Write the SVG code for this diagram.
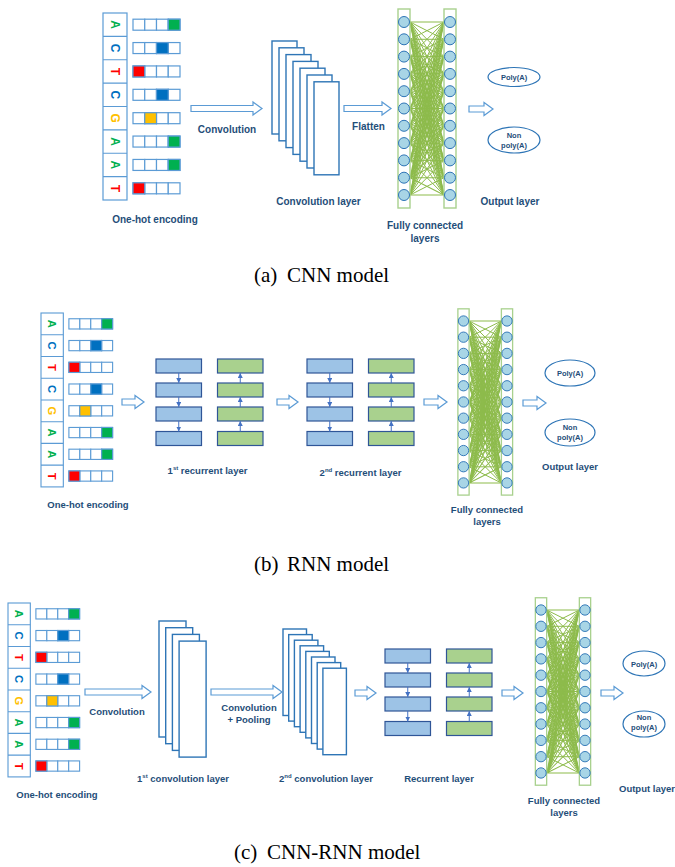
<svg xmlns="http://www.w3.org/2000/svg" width="675" height="867" viewBox="0 0 675 867">
<style>
.lbl{font-family:"Liberation Sans",Arial,sans-serif;font-weight:bold;fill:#1f4e79;text-anchor:middle}
.s10{font-size:10px}
.s95{font-size:9.5px}
.sm{font-family:"Liberation Sans",Arial,sans-serif;font-weight:bold;fill:#1f4e79;text-anchor:middle;font-size:7.5px}
.cap{font-family:"Liberation Serif","Times New Roman",serif;font-size:21px;fill:#000}
.nuc{font-family:"Liberation Sans",Arial,sans-serif;font-weight:bold;font-size:12px;text-anchor:middle}
.cell{fill:#fff;stroke:#5b9bd5;stroke-width:1.2}
.col{fill:#fff;stroke:#5b9bd5;stroke-width:1.2}
.blk{fill:#fff;stroke:#5b9bd5;stroke-width:1.2}
.fmap{fill:#fff;stroke:#2e75b6;stroke-width:1.4}
.bar{fill:#fff;stroke:#a9d18e;stroke-width:1.4}
.neu{fill:#a8d5e6;stroke:#2e75b6;stroke-width:1}
.mesh{fill:none;stroke:#8dbb4b;stroke-width:1}
.out{fill:#fff;stroke:#2e75b6;stroke-width:1.2}
.rb{fill:#9dc3e6;stroke:#2f5597;stroke-width:1.2}
.rg{fill:#a9d18e;stroke:#2f5597;stroke-width:1.2}
.sa{stroke:#4472c4;stroke-width:1;fill:none;marker-end:url(#ah)}
</style>
<defs>
<marker id="ah" viewBox="0 0 6 6" refX="6" refY="3" markerWidth="5" markerHeight="5" orient="auto" markerUnits="userSpaceOnUse"><path d="M0 0L6 3L0 6z" fill="#4472c4"/></marker>
<g id="cells4"><rect class="cell" x="0" y="0" width="11.75" height="11"/><rect class="cell" x="11.75" y="0" width="11.75" height="11"/><rect class="cell" x="23.5" y="0" width="11.75" height="11"/><rect class="cell" x="35.25" y="0" width="11.75" height="11"/></g>
<g id="onehot">
<rect class="col" x="0" y="0" width="24" height="187"/>
<path d="M0 23.375H24M0 46.75H24M0 70.125H24M0 93.5H24M0 116.875H24M0 140.25H24M0 163.625H24" stroke="#5b9bd5" stroke-width="1.2"/>
<text class="nuc" fill="#00b050" transform="translate(12 11.69) rotate(90)" dy="0.36em">A</text>
<text class="nuc" fill="#0070c0" transform="translate(12 35.06) rotate(90)" dy="0.36em">C</text>
<text class="nuc" fill="#ff0000" transform="translate(12 58.44) rotate(90)" dy="0.36em">T</text>
<text class="nuc" fill="#0070c0" transform="translate(12 81.81) rotate(90)" dy="0.36em">C</text>
<text class="nuc" fill="#ffc000" transform="translate(12 105.19) rotate(90)" dy="0.36em">G</text>
<text class="nuc" fill="#00b050" transform="translate(12 128.56) rotate(90)" dy="0.36em">A</text>
<text class="nuc" fill="#00b050" transform="translate(12 151.94) rotate(90)" dy="0.36em">A</text>
<text class="nuc" fill="#ff0000" transform="translate(12 175.31) rotate(90)" dy="0.36em">T</text>
<use href="#cells4" x="30" y="6.19"/>
<use href="#cells4" x="30" y="29.56"/>
<use href="#cells4" x="30" y="52.94"/>
<use href="#cells4" x="30" y="76.31"/>
<use href="#cells4" x="30" y="99.69"/>
<use href="#cells4" x="30" y="123.06"/>
<use href="#cells4" x="30" y="146.44"/>
<use href="#cells4" x="30" y="169.81"/>
<rect x="65.25" y="6.19" width="11.75" height="11" fill="#00b050" stroke="#5b9bd5" stroke-width="1.2"/>
<rect x="53.5" y="29.56" width="11.75" height="11" fill="#0070c0" stroke="#5b9bd5" stroke-width="1.2"/>
<rect x="30" y="52.94" width="11.75" height="11" fill="#ff0000" stroke="#5b9bd5" stroke-width="1.2"/>
<rect x="53.5" y="76.31" width="11.75" height="11" fill="#0070c0" stroke="#5b9bd5" stroke-width="1.2"/>
<rect x="41.75" y="99.69" width="11.75" height="11" fill="#ffc000" stroke="#5b9bd5" stroke-width="1.2"/>
<rect x="65.25" y="123.06" width="11.75" height="11" fill="#00b050" stroke="#5b9bd5" stroke-width="1.2"/>
<rect x="65.25" y="146.44" width="11.75" height="11" fill="#00b050" stroke="#5b9bd5" stroke-width="1.2"/>
<rect x="30" y="169.81" width="11.75" height="11" fill="#ff0000" stroke="#5b9bd5" stroke-width="1.2"/>
</g>
<path id="fan" class="mesh" vector-effect="non-scaling-stroke" d="M0 0L1 0M0 0L1 1M0 0L1 2M0 0L1 3M0 0L1 4M0 0L1 5M0 0L1 6M0 0L1 7M0 0L1 8M0 0L1 9M0 0L1 10"/>
<g id="mesh">
<use href="#fan"/>
<use href="#fan" transform="matrix(1 -1 0 1 0 1)"/>
<use href="#fan" transform="matrix(1 -2 0 1 0 2)"/>
<use href="#fan" transform="matrix(1 -3 0 1 0 3)"/>
<use href="#fan" transform="matrix(1 -4 0 1 0 4)"/>
<use href="#fan" transform="matrix(1 -5 0 1 0 5)"/>
<use href="#fan" transform="matrix(1 -6 0 1 0 6)"/>
<use href="#fan" transform="matrix(1 -7 0 1 0 7)"/>
<use href="#fan" transform="matrix(1 -8 0 1 0 8)"/>
<use href="#fan" transform="matrix(1 -9 0 1 0 9)"/>
<use href="#fan" transform="matrix(1 -10 0 1 0 10)"/>
</g>
<g id="fccol">
<rect class="bar" x="-6" y="-13" width="12" height="199"/>
<circle class="neu" cx="0" cy="0" r="5.5"/>
<circle class="neu" cx="0" cy="17.3" r="5.5"/>
<circle class="neu" cx="0" cy="34.6" r="5.5"/>
<circle class="neu" cx="0" cy="51.9" r="5.5"/>
<circle class="neu" cx="0" cy="69.2" r="5.5"/>
<circle class="neu" cx="0" cy="86.5" r="5.5"/>
<circle class="neu" cx="0" cy="103.8" r="5.5"/>
<circle class="neu" cx="0" cy="121.1" r="5.5"/>
<circle class="neu" cx="0" cy="138.4" r="5.5"/>
<circle class="neu" cx="0" cy="155.7" r="5.5"/>
<circle class="neu" cx="0" cy="173" r="5.5"/>
</g>
<g id="rnnpair">
<rect class="rb" x="0" y="0" width="45.5" height="14"/>
<rect class="rb" x="0" y="24" width="45.5" height="14"/>
<rect class="rb" x="0" y="48" width="45.5" height="14"/>
<rect class="rb" x="0" y="72.5" width="45.5" height="14"/>
<rect class="rg" x="61.5" y="0" width="45.5" height="14"/>
<rect class="rg" x="61.5" y="24" width="45.5" height="14"/>
<rect class="rg" x="61.5" y="48" width="45.5" height="14"/>
<rect class="rg" x="61.5" y="72.5" width="45.5" height="14"/>
</g>
<g id="rnnarrows">
<line class="sa" x1="22.75" y1="14" x2="22.75" y2="24"/>
<line class="sa" x1="22.75" y1="38" x2="22.75" y2="48"/>
<line class="sa" x1="22.75" y1="62" x2="22.75" y2="72.5"/>
<line class="sa" x1="84.25" y1="24" x2="84.25" y2="14"/>
<line class="sa" x1="84.25" y1="48" x2="84.25" y2="38"/>
<line class="sa" x1="84.25" y1="72.5" x2="84.25" y2="62"/>
</g>
</defs>
<rect width="675" height="867" fill="#fff"/>

<!-- ===== (a) CNN model ===== -->
<g id="a-onehot"><use href="#onehot" transform="translate(103 13)"/><text class="lbl s10" x="155" y="223">One-hot encoding</text></g>
<g id="a-conv">
<rect class="fmap" x="272" y="41" width="25" height="93"/>
<rect class="fmap" x="279" y="47.8" width="25" height="93"/>
<rect class="fmap" x="286" y="54.6" width="25" height="93"/>
<rect class="fmap" x="293" y="61.4" width="25" height="93"/>
<rect class="fmap" x="300" y="68.2" width="25" height="93"/>
<rect class="fmap" x="307" y="75" width="25" height="93"/>
<rect class="fmap" x="314" y="81.8" width="25" height="93"/>
<text class="lbl s10" x="318.5" y="205">Convolution layer</text>
</g>
<g id="a-fc">
<use href="#mesh" transform="translate(410 22) scale(34 17.3)"/>
<use href="#fccol" transform="translate(404 22)"/>
<use href="#fccol" transform="translate(450 22)"/>
<text class="lbl s10" x="425" y="229">Fully connected</text>
<text class="lbl s10" x="425" y="242">layers</text>
</g>
<g id="a-out">
<ellipse class="out" cx="514" cy="77" rx="26" ry="9.5"/><text class="sm" x="514" y="80">Poly(A)</text>
<ellipse class="out" cx="514" cy="140" rx="26" ry="13"/><text class="sm" x="514" y="138">Non</text><text class="sm" x="514" y="148">poly(A)</text>
<text class="lbl s10" x="510" y="205">Output layer</text>
</g>
<g id="a-conn">
<path class="blk" d="M191 105.5H253V102L262 108.5L253 115V111.5H191Z"/>
<text class="lbl s10" x="227" y="133">Convolution</text>
<path class="blk" d="M344 105.5H382V102L391 108.5L382 115V111.5H344Z"/>
<text class="lbl s10" x="368.5" y="130">Flatten</text>
<path class="blk" d="M469 106H484V102.5L493 109L484 115.5V112H469Z"/>
</g>
<text class="cap" x="254" y="282">(a)</text><text class="cap" x="287" y="282">CNN model</text>

<!-- ===== (b) RNN model ===== -->
<g id="b-onehot"><use href="#onehot" transform="translate(41 313) scale(0.93)"/><text class="lbl s95" x="88" y="508">One-hot encoding</text></g>
<g id="b-rnn1"><use href="#rnnpair" transform="translate(156 359)"/><text class="lbl s95" x="207.5" y="474">1<tspan dy="-4" font-size="6">st</tspan><tspan dy="4"> recurrent layer</tspan></text></g>
<g id="b-rnn2"><use href="#rnnpair" transform="translate(307 359)"/><text class="lbl s95" x="360.5" y="476">2<tspan dy="-4" font-size="6">nd</tspan><tspan dy="4"> recurrent layer</tspan></text></g>
<g id="b-fc">
<use href="#mesh" transform="translate(469 321) scale(32.4 16.2)"/>
<use href="#fccol" transform="translate(463.5 321) scale(0.936)"/>
<use href="#fccol" transform="translate(507 321) scale(0.936)"/>
<text class="lbl s95" x="487" y="513">Fully connected</text>
<text class="lbl s95" x="487" y="525">layers</text>
</g>
<g id="b-out">
<ellipse class="out" cx="570" cy="373" rx="25" ry="13"/><text class="sm" x="570" y="376">Poly(A)</text>
<ellipse class="out" cx="570" cy="432.5" rx="25" ry="13.5"/><text class="sm" x="570" y="430">Non</text><text class="sm" x="570" y="440">poly(A)</text>
<text class="lbl s95" x="570" y="470">Output layer</text>
</g>
<g id="b-conn">
<path class="blk" d="M122 399H135V395.5L144 402L135 408.5V405H122Z"/>
<path class="blk" d="M277 399H289V395.5L298 402L289 408.5V405H277Z"/>
<path class="blk" d="M424 399H438V395.5L447 402L438 408.5V405H424Z"/>
<path class="blk" d="M523 400H537V396.5L546 403L537 409.5V406H523Z"/>
<use href="#rnnarrows" transform="translate(156 359)"/>
<use href="#rnnarrows" transform="translate(307 359)"/>
</g>
<text class="cap" x="254" y="571">(b)</text><text class="cap" x="287" y="571">RNN model</text>

<!-- ===== (c) CNN-RNN model ===== -->
<g id="c-onehot"><use href="#onehot" transform="translate(8 603) scale(0.93)"/><text class="lbl s95" x="57" y="798">One-hot encoding</text></g>
<g id="c-conv1">
<rect class="fmap" x="159" y="621" width="27" height="116"/>
<rect class="fmap" x="165.7" y="627.7" width="27" height="116"/>
<rect class="fmap" x="172.4" y="634.4" width="27" height="116"/>
<rect class="fmap" x="179.1" y="641.1" width="27" height="116"/>
<text class="lbl s95" x="183" y="782">1<tspan dy="-4" font-size="6">st</tspan><tspan dy="4"> convolution layer</tspan></text>
</g>
<g id="c-conv2">
<rect class="fmap" x="283" y="629" width="23.5" height="86.5"/>
<rect class="fmap" x="288.7" y="634.6" width="23.5" height="86.5"/>
<rect class="fmap" x="294.4" y="640.2" width="23.5" height="86.5"/>
<rect class="fmap" x="300.1" y="645.8" width="23.5" height="86.5"/>
<rect class="fmap" x="305.8" y="651.4" width="23.5" height="86.5"/>
<rect class="fmap" x="311.5" y="657" width="23.5" height="86.5"/>
<rect class="fmap" x="317.2" y="662.6" width="23.5" height="86.5"/>
<rect class="fmap" x="322.9" y="668.2" width="23.5" height="86.5"/>
<text class="lbl s95" x="326" y="782">2<tspan dy="-4" font-size="6">nd</tspan><tspan dy="4"> convolution layer</tspan></text>
</g>
<g id="c-rnn"><use href="#rnnpair" transform="translate(385 649)"/><text class="lbl s95" x="439" y="782">Recurrent layer</text></g>
<g id="c-fc">
<use href="#mesh" transform="translate(546.7 610) scale(32.6 16.3)"/>
<use href="#fccol" transform="translate(541 610) scale(0.942)"/>
<use href="#fccol" transform="translate(585 610) scale(0.942)"/>
<text class="lbl s95" x="564" y="804">Fully connected</text>
<text class="lbl s95" x="564" y="816">layers</text>
</g>
<g id="c-out">
<ellipse class="out" cx="644" cy="663.5" rx="21" ry="12.5"/><text class="sm" x="644" y="667">Poly(A)</text>
<ellipse class="out" cx="644" cy="724" rx="21" ry="13"/><text class="sm" x="644" y="720">Non</text><text class="sm" x="644" y="730">poly(A)</text>
<text class="lbl s95" x="619" y="792" style="text-anchor:start">Output layer</text>
</g>
<g id="c-conn">
<path class="blk" d="M85 689H142V685.5L151 692L142 698.5V695H85Z"/>
<text class="lbl s95" x="117" y="715">Convolution</text>
<path class="blk" d="M211 689H273V685.5L282 692L273 698.5V695H211Z"/>
<text class="lbl s95" x="249" y="711">Convolution</text>
<text class="lbl s95" x="249" y="723">+ Pooling</text>
<path class="blk" d="M355 690H367V686.5L376 693L367 699.5V696H355Z"/>
<path class="blk" d="M502 690H514V686.5L523 693L514 699.5V696H502Z"/>
<path class="blk" d="M601 690H614V686.5L623 693L614 699.5V696H601Z"/>
<use href="#rnnarrows" transform="translate(385 649)"/>
</g>
<text class="cap" x="234" y="859">(c)</text><text class="cap" x="267" y="859">CNN-RNN model</text>
</svg>
